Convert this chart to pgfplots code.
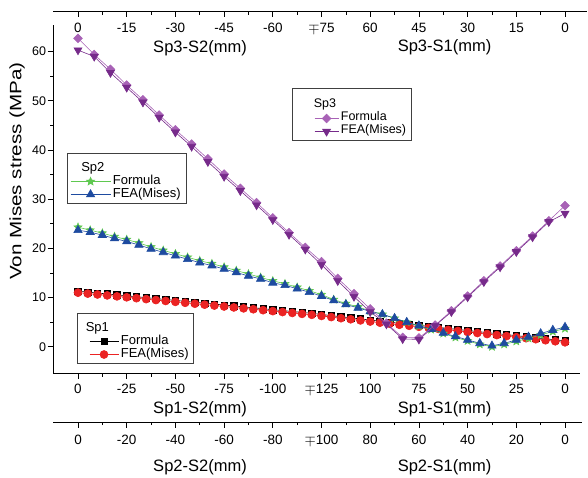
\documentclass[border=0pt]{standalone}
\usepackage{pgfplots}
\usepackage{pgfplotstable}
\usepackage{graphicx}
\pgfplotsset{compat=1.18}
\usepackage{fontspec}
\setmainfont{Liberation Sans}
\definecolor{purpA}{RGB}{168,98,182}
\definecolor{purpB}{RGB}{118,42,138}
\definecolor{grn}{RGB}{95,200,80}
\definecolor{blu}{RGB}{30,75,160}
\definecolor{rd}{RGB}{235,35,35}

\pgfdeclareplotmark{fstar}{%
  \pgfpathmoveto{\pgfpointpolar{90}{\pgfplotmarksize}}%
  \pgfpathlineto{\pgfpointpolar{126}{0.45\pgfplotmarksize}}%
  \pgfpathlineto{\pgfpointpolar{162}{\pgfplotmarksize}}%
  \pgfpathlineto{\pgfpointpolar{198}{0.45\pgfplotmarksize}}%
  \pgfpathlineto{\pgfpointpolar{234}{\pgfplotmarksize}}%
  \pgfpathlineto{\pgfpointpolar{270}{0.45\pgfplotmarksize}}%
  \pgfpathlineto{\pgfpointpolar{306}{\pgfplotmarksize}}%
  \pgfpathlineto{\pgfpointpolar{342}{0.45\pgfplotmarksize}}%
  \pgfpathlineto{\pgfpointpolar{18}{\pgfplotmarksize}}%
  \pgfpathlineto{\pgfpointpolar{54}{0.45\pgfplotmarksize}}%
  \pgfpathclose
  \pgfusepathqfillstroke
}

\pgfplotstableread{
u f e
0 62.7 60.3
5 59.4 59.0
10 56.4 55.7
15 53.2 52.7
20 50.2 49.7
25 47.1 46.6
30 44.1 43.6
35 41.2 40.7
40 38.2 37.6
45 35.1 34.6
50 32.2 31.7
55 29.3 28.8
60 26.2 25.8
65 23.2 22.8
70 20.2 19.8
75 17.3 16.7
80 13.9 13.4
85 10.8 10.2
90 7.7 7.1
95 4.8 4.6
100 1.9 1.6
105 1.8 1.5
110 4.4 4.3
115 7.3 7.1
120 10.3 10.1
125 13.4 13.2
130 16.4 16.2
135 19.5 19.3
140 22.5 22.3
145 25.6 25.4
150 28.7 27.1
}\spthree

\pgfplotstableread{
u f e
0 24.3 23.7
5 23.7 23.3
10 23.1 22.7
15 22.4 22.0
20 21.8 21.4
25 21.1 20.7
30 20.3 19.9
35 19.6 19.2
40 18.9 18.5
45 18.2 17.8
50 17.5 17.1
55 16.9 16.5
60 16.2 15.8
65 15.5 15.1
70 14.8 14.4
75 14.1 13.8
80 13.4 13.0
85 12.8 12.5
90 12.1 11.8
95 11.4 11.1
100 10.6 10.3
105 9.6 9.4
110 8.8 8.6
115 8.1 7.9
120 7.3 7.2
125 6.6 6.6
130 5.8 5.8
135 5.0 5.0
140 4.2 4.3
145 3.5 3.6
150 2.7 2.8
155 1.9 2.1
160 1.2 1.4
165 0.5 0.7
170 0.0 0.2
175 0.5 0.7
180 1.1 1.4
185 1.7 2.0
190 2.4 2.7
195 3.1 3.4
200 3.7 4.0
}\sptwo

\pgfplotstableread{
u f e
0 11.30 11.00
5 11.11 10.81
10 10.93 10.63
15 10.74 10.44
20 10.55 10.25
25 10.36 10.06
30 10.18 9.88
35 9.99 9.69
40 9.80 9.50
45 9.61 9.31
50 9.43 9.13
55 9.24 8.94
60 9.05 8.75
65 8.86 8.56
70 8.68 8.38
75 8.49 8.19
80 8.30 8.00
85 8.11 7.81
90 7.93 7.63
95 7.74 7.44
100 7.55 7.25
105 7.36 7.06
110 7.18 6.88
115 6.99 6.69
120 6.80 6.50
125 6.57 6.27
130 6.34 6.04
135 6.11 5.81
140 5.89 5.59
145 5.66 5.36
150 5.43 5.13
155 5.20 4.90
160 4.99 4.69
165 4.78 4.48
170 4.57 4.27
175 4.36 4.06
180 4.15 3.85
185 3.94 3.64
190 3.73 3.43
195 3.52 3.22
200 3.31 3.01
205 3.10 2.80
210 2.89 2.59
215 2.68 2.38
220 2.47 2.17
225 2.26 1.96
230 2.05 1.75
235 1.84 1.54
240 1.63 1.33
245 1.42 1.12
250 1.21 0.91
}\spone

\pgfplotsset{
  common/.style={
    scale only axis,
    /pgf/number format/assume math mode=true,
    clip=false,
    legend cell align=left,
    tick style={black, line width=0.7pt},
    axis line style={black, line width=1pt},
    major tick length=5.5pt,
    minor tick length=3pt,
    minor x tick num=1,
    legend style={draw=black!75, fill=white, line width=0.5pt,
      font=\fontsize{13}{14}\selectfont, inner xsep=3pt, inner ysep=2pt,
      nodes={inner sep=2pt, text height=0.7em, text depth=0.2em}},
  },
}

\begin{document}
\begin{tikzpicture}
\useasboundingbox (0pt,0pt) rectangle (588pt,-477pt);

% Sp1 (with y axis)
\begin{axis}[common,
  at={(53pt,-373.5pt)}, anchor=south west,
  width=527pt, height=348.5pt,
  xmin=-12.83, xmax=257.7, ymin=-5.43, ymax=65.40,
  axis x line*=bottom, axis y line*=left,
  tick align=outside,
  xtick={0,25,...,250},
  xticklabels={0,-25,-50,-75,-100,$\mp$125,100,75,50,25,0},
  xticklabel style={font=\fontsize{13.5}{14}\selectfont, yshift=-1.5pt},
  ytick={0,10,...,60}, minor y tick num=1,
  yticklabel style={font=\fontsize{12.5}{14}\selectfont, xshift=2pt},
  legend style={at={(0.0455,0.1736)}, anchor=north west},
  legend image code/.code={\path (-9pt,0pt); \draw[mark repeat=2,mark phase=2,#1] plot coordinates {(0pt,0pt) (14.5pt,0pt) (29pt,0pt)};},
]
\addlegendimage{legend image code/.code={\node[overlay,anchor=west,inner sep=0pt] at (-4pt,0pt) {Sp1}; \path (-9pt,13pt) (29pt,-5pt);}}
\addlegendentry{}
\addplot[black, line width=0.6pt, mark=square*, mark size=3.2pt, mark options={fill=black}] table[x=u,y=f] {\spone};
\addlegendentry{Formula}
\addplot[rd, line width=0.6pt, mark=*, mark size=4pt, mark options={fill=rd}] table[x=u,y=e] {\spone};
\addlegendentry{FEA(Mises)}
\end{axis}

% Sp2 (with lower extra x axis)
\begin{axis}[common,
  at={(53pt,-422pt)}, anchor=south west,
  width=529pt, height=397pt,
  xmin=-10.27, xmax=206.98, ymin=-15.29, ymax=65.40,
  axis x line*=bottom, axis y line=none,
  tick align=outside,
  xtick={0,20,...,200},
  xticklabels={0,-20,-40,-60,-80,$\mp$100,80,60,40,20,0},
  xticklabel style={font=\fontsize{13.5}{14}\selectfont, yshift=-4.5pt},
  legend style={at={(0.0265,0.6776)}, anchor=north west},
  legend image code/.code={\draw[mark repeat=2,mark phase=2,#1] plot coordinates {(0pt,0pt) (20pt,0pt) (40pt,0pt)};},
]
\addlegendimage{legend image code/.code={\node[overlay,anchor=west,inner sep=0pt] at (10.5pt,0pt) {Sp2}; \path (0pt,13pt) (40pt,-5pt);}}
\addlegendentry{}
\addplot[grn, line width=0.6pt, mark=fstar, mark size=4.2pt, mark options={fill=grn}] table[x=u,y=f] {\sptwo};
\addlegendentry{Formula}
\addplot[blu, line width=0.6pt, mark=triangle*, mark size=4.8pt, mark options={fill=blu}] table[x=u,y=e] {\sptwo};
\addlegendentry{FEA(Mises)}
\end{axis}

% Sp3 (with top x axis)
\begin{axis}[common,
  at={(53pt,-373.5pt)}, anchor=south west,
  width=534pt, height=361.5pt,
  xmin=-7.70, xmax=156.77, ymin=-5.43, ymax=68.05,
  axis x line*=top, axis y line=none,
  tick align=inside,
  xtick={0,15,...,150},
  xticklabels={0,-15,-30,-45,-60,$\mp$75,60,45,30,15,0},
  xticklabel style={font=\fontsize{13.5}{14}\selectfont, anchor=north, yshift=-7.5pt},
  legend style={at={(0.4476,0.7898)}, anchor=north west, font=\fontsize{12.5}{13}\selectfont},
  legend image code/.code={\path (-19pt,0pt); \draw[mark repeat=2,mark phase=2,#1] plot coordinates {(0pt,0pt) (12pt,0pt) (24pt,0pt)};},
]
\addlegendimage{legend image code/.code={\node[overlay,anchor=west,inner sep=0pt] at (-1pt,0pt) {Sp3}; \path (-19pt,15pt) (24pt,-5pt);}}
\addlegendentry{}
\addplot[purpA, line width=0.6pt, mark=square*, mark size=3.1pt, mark options={rotate=45, fill=purpA}] table[x=u,y=f] {\spthree};
\addlegendentry{Formula}
\addplot[purpB, line width=0.6pt, mark=triangle*, mark size=4.6pt, mark options={rotate=180, fill=purpB}] table[x=u,y=e] {\spthree};
\addlegendentry{FEA(Mises)}
\end{axis}

\begin{scope}[every node/.style={font=\fontsize{16.5}{18}\selectfont, inner sep=0pt}]
\node at (200pt,-48pt) {Sp3-S2(mm)};
\node at (444.5pt,-47pt) {Sp3-S1(mm)};
\node at (200pt,-409pt) {Sp1-S2(mm)};
\node at (444.5pt,-409pt) {Sp1-S1(mm)};
\node at (200pt,-467pt) {Sp2-S2(mm)};
\node at (444.5pt,-467pt) {Sp2-S1(mm)};
\node[rotate=90] at (17pt,-171pt) {\scalebox{1.25}[1]{Von Mises stress (MPa)}};
\end{scope}
\end{tikzpicture}
\end{document}
